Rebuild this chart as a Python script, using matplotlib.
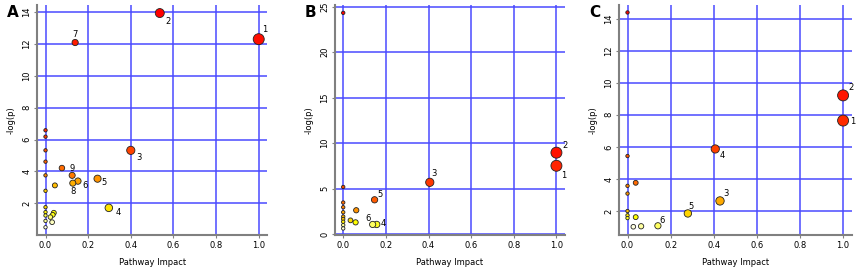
import colorsys
import numpy as np
import matplotlib
matplotlib.use("Agg")
import matplotlib.pyplot as plt

# panel A: pathway impact vs -log(p)
a_impact = [1.0, 0.536, 0.40, 0.297, 0.244, 0.152, 0.139, 0.128, 0.077,
            0.125, 0.044, 0.039, 0.034, 0.023, 0.031,
            0, 0, 0, 0, 0, 0, 0, 0, 0, 0, 0]
a_logp = [12.3, 13.94, 5.32, 1.71, 3.54, 3.39, 12.09, 3.26, 4.21,
          3.75, 3.12, 1.40, 1.27, 1.13, 0.81,
          6.58, 6.18, 5.32, 4.61, 3.75, 2.78, 1.75, 1.44, 1.23, 0.89, 0.49]
a_labels = ["1", "2", "3", "4", "5", "6", "7", "8", "9"]

# panel B
b_impact = [1.0, 1.0, 0.406, 0.157, 0.147, 0.138, 0.061, 0.034, 0.058,
            0, 0, 0, 0, 0, 0, 0, 0, 0, 0]
b_logp = [7.52, 8.96, 5.70, 1.07, 3.78, 1.07, 2.63, 1.52, 1.30,
          24.33, 5.19, 3.48, 2.96, 2.41, 1.93, 1.67, 1.37, 1.0, 0.63]
b_labels = ["1", "2", "3", "4", "5", "6"]

# panel C
c_impact = [1.0, 1.0, 0.429, 0.407, 0.280, 0.141, 0.038, 0.038, 0.027, 0.063,
            0, 0, 0, 0, 0, 0, 0]
c_logp = [7.64, 9.21, 2.63, 5.87, 1.85, 1.08, 3.76, 1.62, 1.02, 1.05,
          14.38, 5.43, 3.57, 3.09, 2.0, 1.73, 1.56]
c_labels = ["1", "2", "3", "4", "5", "6"]

# label offsets in points (dx, dy)
a_off = [(4, 7), (6, -6), (6, -5), (7, -3), (5, -3), (5, -3), (0, 6), (0, -6), (7, 0)]
b_off = [(5, -7), (6, 5), (3, 6), (5, 1), (4, 4), (-3, 4)]
c_off = [(7, -1), (6, 6), (4, 5), (5, -5), (2, 5), (3, 4)]


def heat_colors(n):
    # same as R's heat.colors(n)
    j = n // 4
    i = n - j
    cols = []
    for k in range(i):
        h = (1 / 6) * k / (i - 1) if i > 1 else 0
        cols.append(colorsys.hsv_to_rgb(h, 1, 1))
    if j > 0:
        for s in np.linspace(1 - 1 / (2 * j), 1 / (2 * j), j):
            cols.append(colorsys.hsv_to_rgb(1 / 6, s, 1))
    return cols


def draw_panel(ax, impact, logp, labels, offsets, ylim, yticks, letter):
    impact = np.array(impact)
    logp = np.array(logp)
    order = np.argsort(-logp, kind="stable")
    pal = heat_colors(len(logp))
    colors = [None] * len(logp)
    for rank, idx in enumerate(order):
        colors[idx] = pal[rank]
    diam = 3.4 + 7.6 * np.sqrt(impact)
    sizes = (diam * 0.72) ** 2

    for t in yticks:
        ax.axhline(t, color="#4a4aff", lw=1.1, zorder=1)
    for t in np.arange(0, 1.01, 0.2):
        ax.axvline(t, color="#4a4aff", lw=1.1, zorder=1)

    ax.scatter(impact, logp, s=sizes, c=colors, edgecolors="#222222",
               linewidths=0.6, zorder=3)
    for k, lab in enumerate(labels):
        ax.annotate(lab, (impact[k], logp[k]), xytext=offsets[k],
                    textcoords="offset points", fontsize=6,
                    ha="center", va="center", zorder=4)

    ax.set_xlim(-0.04, 1.04)
    ax.set_ylim(*ylim)
    ax.set_xticks(np.arange(0, 1.01, 0.2))
    ax.set_xticklabels(["0.0", "0.2", "0.4", "0.6", "0.8", "1.0"])
    ax.set_yticks(yticks)
    ax.set_yticklabels([str(t) for t in yticks], rotation=90, va="center")
    ax.tick_params(labelsize=6, length=2, color="gray", pad=2)
    for side in ["top", "right"]:
        ax.spines[side].set_visible(False)
    for side in ["left", "bottom"]:
        ax.spines[side].set_color("gray")
        ax.spines[side].set_linewidth(1.5)
    ax.set_xlabel("Pathway Impact", fontsize=6, labelpad=6)
    ax.set_ylabel("-log(p)", fontsize=6, labelpad=5)
    pos = ax.get_position()
    ax.figure.text(pos.x0 - 0.035, 0.955, letter, fontsize=11,
                   fontweight="bold", ha="left", va="center")


fig = plt.figure(figsize=(8.56, 2.74), dpi=100)
ax_a = fig.add_axes([0.0432, 0.142, 0.269, 0.840])
ax_b = fig.add_axes([0.391, 0.142, 0.269, 0.840])
ax_c = fig.add_axes([0.723, 0.142, 0.272, 0.840])

draw_panel(ax_a, a_impact, a_logp, a_labels, a_off, (0, 14.45), [2, 4, 6, 8, 10, 12, 14], "A")
draw_panel(ax_b, b_impact, b_logp, b_labels, b_off, (-0.1, 25.2), [0, 5, 10, 15, 20, 25], "B")
draw_panel(ax_c, c_impact, c_logp, c_labels, c_off, (0.5, 14.85), [2, 4, 6, 8, 10, 12, 14], "C")

fig.savefig("out.png", dpi=100)
